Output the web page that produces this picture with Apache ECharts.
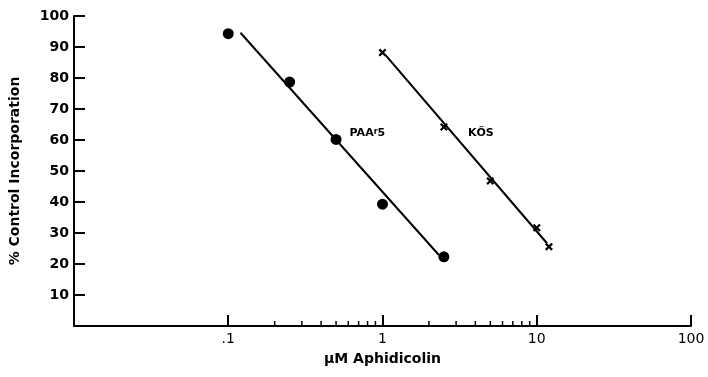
<!DOCTYPE html>
<html>
<head>
<meta charset="utf-8">
<script src="https://cdn.jsdelivr.net/npm/echarts@6/dist/echarts.min.js"></script>
<style>
  html, body { margin: 0; padding: 0; background: #fff; }
  #chart { width: 708px; height: 377px; }
</style>
</head>
<body>
<div id="chart"></div>
<script>
// points
var paaDose = [0.1, 0.25, 0.5, 1, 2.5];
var paaValues = [94.3, 78.7, 60.2, 39.3, 22.3];
var kosDose = [1, 2.5, 5, 10, 12];
var kosValues = [88.2, 64.2, 46.8, 31.7, 25.6];
// fitted lines (end points)
var paaFit = [[0.12, 94.6], [2.32, 22.9]];
var kosFit = [[1.05, 87.3], [11.65, 26.7]];
// log axis tick labels and minor ticks
var xTickLabels = { '0.1': '.1', '1': '1', '10': '10', '100': '100' };
var minorTicks = [0.2, 0.3, 0.4, 0.5, 0.6, 0.7, 0.8, 0.9, 2, 3, 4, 5, 6, 7, 8, 9];

var chart = echarts.init(document.getElementById('chart'));
var font = 'DejaVu Sans';
var crossPath = 'path://M0,2L2,0L5,3L8,0L10,2L7,5L10,8L8,10L5,7L2,10L0,8L3,5Z';

function zip(xs, ys) {
  return xs.map(function (x, i) { return [x, ys[i]]; });
}

var paaData = zip(paaDose, paaValues);
paaData[2] = {
  value: paaData[2],
  label: {
    show: true, position: 'right', distance: 8, offset: [0, -6],
    formatter: '{a|PAA}{s|r}{a|5}',
    rich: {
      a: { fontFamily: font, fontWeight: 'bold', fontSize: 11, color: '#000' },
      s: { fontFamily: font, fontWeight: 'bold', fontSize: 8, color: '#000', verticalAlign: 'top' }
    }
  }
};
var kosData = zip(kosDose, kosValues);
kosData[1] = {
  value: kosData[1],
  label: {
    show: true, position: 'right', distance: 20, offset: [0, 6],
    formatter: 'KŐS', fontFamily: font, fontWeight: 'bold', fontSize: 11, color: '#000'
  }
};

chart.setOption({
  animation: false,
  grid: { left: 73, right: 17, top: 16, bottom: 51 },
  xAxis: {
    type: 'log', logBase: 10, min: 0.01, max: 100,
    name: 'μM Aphidicolin', nameLocation: 'middle', nameGap: 26,
    nameTextStyle: { fontFamily: font, fontWeight: 'bold', fontSize: 14, color: '#000' },
    axisLine: { lineStyle: { color: '#000', width: 2 } },
    axisTick: { inside: true, length: 11, lineStyle: { color: '#000', width: 2 } },
    axisLabel: {
      margin: 6, fontFamily: font, fontSize: 14, color: '#000',
      formatter: function (v) {
        var k = String(+v.toPrecision(3));
        return xTickLabels[k] || '';
      }
    },
    splitLine: { show: false }
  },
  yAxis: {
    type: 'value', min: 0, max: 100, interval: 10,
    name: '% Control Incorporation', nameLocation: 'middle', nameGap: 52,
    nameTextStyle: { fontFamily: font, fontWeight: 'bold', fontSize: 14, color: '#000' },
    axisLine: { show: true, lineStyle: { color: '#000', width: 2 } },
    axisTick: { show: true, inside: true, length: 11, lineStyle: { color: '#000', width: 2 } },
    axisLabel: {
      margin: 5, fontFamily: font, fontWeight: 'bold', fontSize: 14, color: '#000',
      formatter: function (v) { return v === 0 ? '' : v; }
    },
    splitLine: { show: false }
  },
  series: [
    {
      type: 'scatter', data: minorTicks.map(function (d) { return [d, 0]; }),
      symbol: 'rect', symbolSize: [1.5, 5], symbolOffset: [0, -2.5],
      itemStyle: { color: '#000', opacity: 1 }, clip: false, silent: true
    },
    {
      type: 'line', data: paaFit, symbol: 'none',
      lineStyle: { color: '#000', width: 2 }
    },
    {
      type: 'line', data: kosFit, symbol: 'none',
      lineStyle: { color: '#000', width: 2 }
    },
    {
      // white gap round the crosses
      type: 'scatter', data: zip(kosDose, kosValues),
      symbol: 'circle', symbolSize: 14, silent: true,
      itemStyle: { color: '#fff', opacity: 1 }
    },
    {
      name: 'PAAr5', type: 'scatter', data: paaData,
      symbol: 'circle', symbolSize: 11,
      itemStyle: { color: '#000', opacity: 1 }
    },
    {
      name: 'KOS', type: 'scatter', data: kosData,
      symbol: crossPath, symbolSize: 8,
      itemStyle: { color: '#000', opacity: 1 }
    }
  ]
});
</script>
</body>
</html>
